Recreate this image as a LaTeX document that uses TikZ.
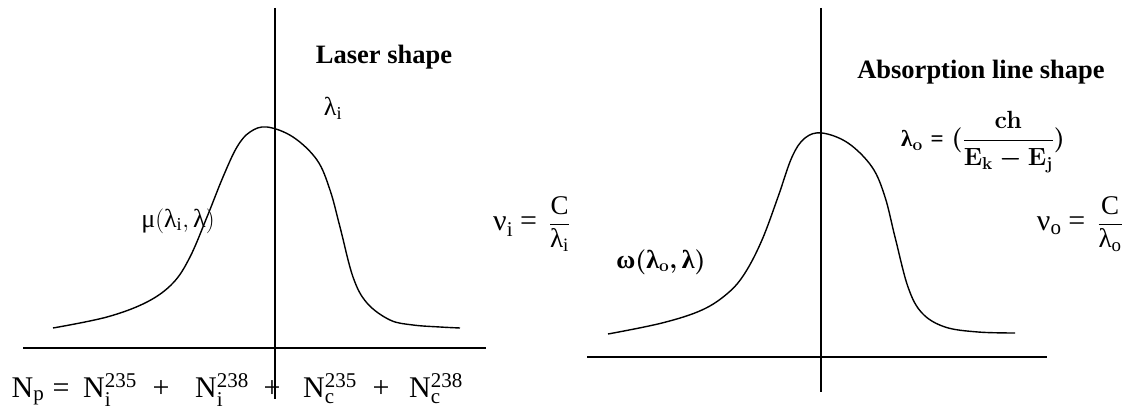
\documentclass[tikz,border=0pt]{standalone}
\usepackage{amsmath}
\usepackage{fontspec}
\setmainfont{Liberation Serif}
\newcommand{\gl}{\text{λ}}
\newcommand{\gmu}{\text{μ}}
\newcommand{\gnu}{\text{ν}}
\newcommand{\gom}{\text{ω}}
\newcommand{\teq}{\mathrel{\text{=}}}
\newcommand{\lamo}{$\gl_{\mathbf{o}} \teq (\dfrac{\mathbf{ch}}{\mathbf{E_k} - \mathbf{E_j}})$}
\newcommand{\omg}{$\gom(\gl_{\mathbf{o}},\gl)$}
\newcommand{\fracsize}{\fontsize{27}{31}\selectfont}
\begin{document}
\begin{tikzpicture}[x=1pt,y=-1pt,
  axis/.style={line width=1.5pt},
  curve/.style={line width=1.4pt},
  title/.style={font=\fontsize{26.5}{30}\selectfont\bfseries, inner sep=0pt},
  lbl/.style={font=\fontsize{26}{30}\selectfont, inner sep=0pt},
  freq/.style={font=\fontsize{30}{34}\selectfont, inner sep=0pt},
  blbl/.style={font=\fontsize{26}{30}\selectfont\bfseries\boldmath, inner sep=0pt},
  flbl/.style={font=\fontsize{23}{27}\selectfont\bfseries\boldmath, inner sep=0pt},
  eqn/.style={font=\fontsize{30}{34}\selectfont, inner sep=0pt, anchor=base}]
\useasboundingbox (0,0) rectangle (1125,409);
% left panel
\draw[axis] (275,8) -- (275,399);
\draw[axis] (23,348) -- (486,348);
\draw[curve] plot[smooth, tension=0.6] coordinates {(53,328) (107,317) (147,302) (173,283) (190,257) (207,217) (223,177) (237,147) (250,132) (267,127) (293,137) (317,160) (330,190) (340,227) (353,277) (367,303) (390,320) (413,325) (440,327) (460,328)};
\node[title] (t1) at (384,57) {Laser shape};
\node[lbl] (li) at (333,108) {$\gl_{\mathrm{i}}$};
\node[lbl] (mu) at (178,221) {$\gmu(\gl_{\mathrm{i}},\gl)$};
\node[freq, anchor=west] (nui) at (493,224) {$\gnu_{\mathrm{i}} \teq$\hspace{12pt}{\fracsize$\dfrac{\mathrm{C}}{\gl_{\mathrm{i}}}$}};
\node[eqn] (np) at (28,397) {$\mathrm{N_p}$};
\node[eqn] (eq) at (61,397) {=};
\node[eqn] (n1) at (110,397) {$\mathrm{N_i^{235}}$};
\node[eqn] (p1) at (161,397) {+};
\node[eqn] (n2) at (222,397) {$\mathrm{N_i^{238}}$};
\node[eqn] (p2) at (272,397) {+};
\node[eqn] (n3) at (330,397) {$\mathrm{N_c^{235}}$};
\node[eqn] (p3) at (381,397) {+};
\node[eqn] (n4) at (436,397) {$\mathrm{N_c^{238}}$};
% right panel
\draw[axis] (821,8) -- (821,392);
\draw[axis] (587,357) -- (1047,357);
\draw[curve] plot[smooth, tension=0.6] coordinates {(608,334) (662,323) (702,310) (728,293) (745,273) (762,240) (778,197) (792,157) (805,138) (822,133) (848,143) (872,167) (885,197) (895,237) (908,287) (922,313) (945,327) (978,332) (1015,333)};
\node[title] (t2) at (981,72) {Absorption line shape};
\node[flbl] (lo) at (983,142) {\lamo};
\node[freq, anchor=east] (nuo) at (1123,224) {$\gnu_{\mathrm{o}} \teq$\hspace{12pt}{\fracsize$\dfrac{\mathrm{C}}{\gl_{\mathrm{o}}}$}};
\node[blbl] (om) at (661,262) {\omg};
\end{tikzpicture}
\end{document}
